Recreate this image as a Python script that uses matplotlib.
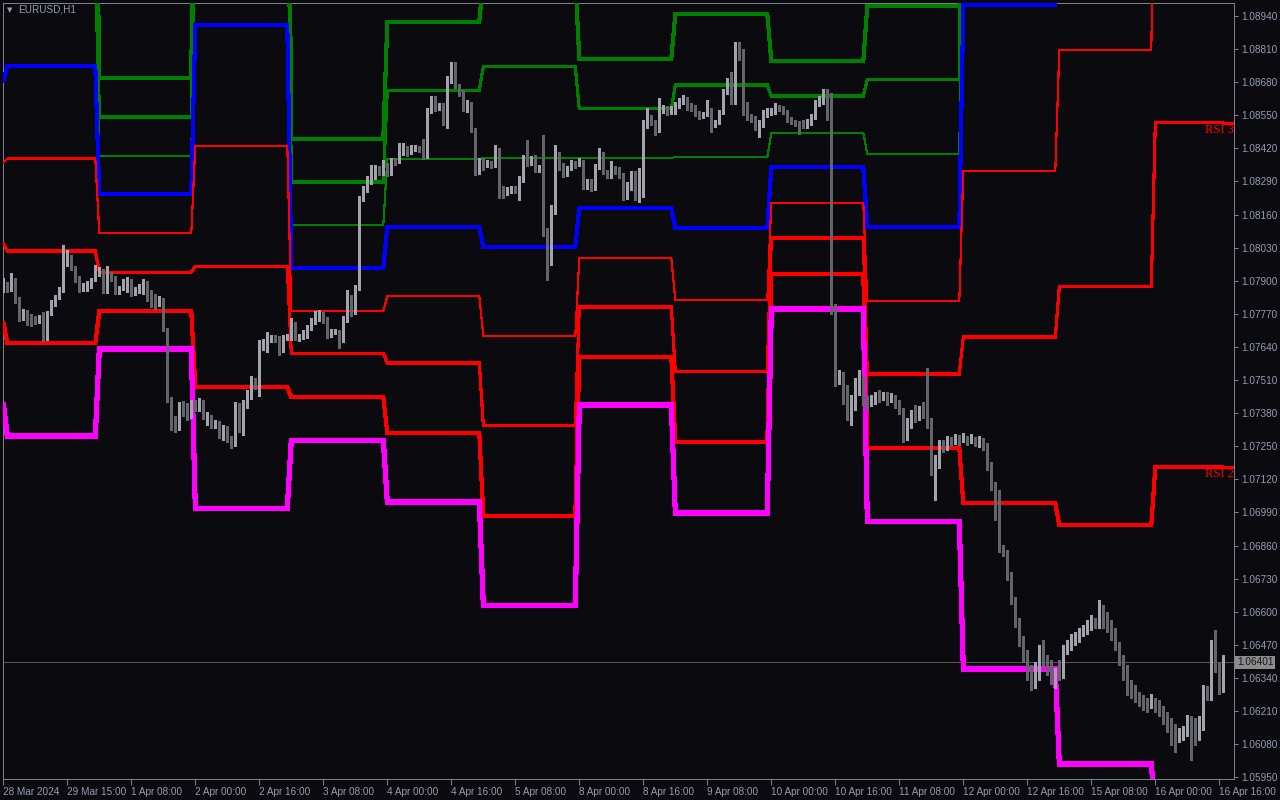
import numpy as np
import matplotlib
matplotlib.use("Agg")
import matplotlib.pyplot as plt
import matplotlib.transforms as mtransforms

plt.rcParams["font.family"] = ["Liberation Sans", "DejaVu Sans"]

BG = "#0a0a0f"
FRAME = "#7c818a"
TXT = "#939db0"
BULL = "#a3a3ae"
BEAR = "#64646b"

symbol = "EURUSD,H1"
bid = 1.06401

# H1 candles, one value per bar (open of each bar = close of the previous bar)
first_open = 1.07872
close = [
    1.07891, 1.07868, 1.07903, 1.07824, 1.07754, 1.07777, 1.07754, 1.07746, 1.07742, 1.07746,
    1.07671, 1.07773, 1.07813, 1.07832, 1.07864, 1.07970, 1.07974, 1.07950, 1.07907, 1.07864,
    1.07879, 1.07883, 1.07899, 1.07930, 1.07938, 1.07864, 1.07923, 1.07911, 1.07856, 1.07868,
    1.07895, 1.07903, 1.07852, 1.07860, 1.07875, 1.07891, 1.07828, 1.07805, 1.07801, 1.07832,
    1.07714, 1.07435, 1.07349, 1.07321, 1.07412, 1.07404, 1.07369, 1.07416, 1.07400, 1.07428,
    1.07365, 1.07365, 1.07333, 1.07337, 1.07290, 1.07321, 1.07278, 1.07259, 1.07412, 1.07318,
    1.07420, 1.07447, 1.07506, 1.07487, 1.07640, 1.07651, 1.07675, 1.07675, 1.07671, 1.07624,
    1.07675, 1.07679, 1.07726, 1.07675, 1.07679, 1.07687, 1.07714, 1.07738, 1.07765, 1.07773,
    1.07746, 1.07687, 1.07695, 1.07699, 1.07667, 1.07750, 1.07832, 1.07777, 1.07872, 1.08221,
    1.08260, 1.08300, 1.08319, 1.08343, 1.08323, 1.08363, 1.08323, 1.08370, 1.08367, 1.08425,
    1.08425, 1.08398, 1.08422, 1.08422, 1.08418, 1.08386, 1.08563, 1.08614, 1.08579, 1.08587,
    1.08520, 1.08689, 1.08689, 1.08665, 1.08638, 1.08575, 1.08594, 1.08492, 1.08327, 1.08370,
    1.08347, 1.08359, 1.08355, 1.08406, 1.08257, 1.08245, 1.08253, 1.08260, 1.08257, 1.08300,
    1.08382, 1.08363, 1.08378, 1.08335, 1.08339, 1.08088, 1.08001, 1.08178, 1.08394, 1.08347,
    1.08323, 1.08335, 1.08363, 1.08355, 1.08367, 1.08268, 1.08280, 1.08260, 1.08347, 1.08402,
    1.08327, 1.08312, 1.08339, 1.08335, 1.08312, 1.08229, 1.08276, 1.08315, 1.08229, 1.08327,
    1.08512, 1.08524, 1.08520, 1.08488, 1.08571, 1.08575, 1.08563, 1.08575, 1.08583, 1.08598,
    1.08614, 1.08579, 1.08575, 1.08559, 1.08543, 1.08547, 1.08571, 1.08512, 1.08520, 1.08563,
    1.08642, 1.08681, 1.08602, 1.08799, 1.08779, 1.08602, 1.08543, 1.08539, 1.08504, 1.08504,
    1.08559, 1.08563, 1.08563, 1.08583, 1.08579, 1.08563, 1.08536, 1.08528, 1.08520, 1.08512,
    1.08508, 1.08524, 1.08543, 1.08598, 1.08610, 1.08638, 1.08543, 1.07777, 1.07498, 1.07526,
    1.07432, 1.07373, 1.07432, 1.07491, 1.07518, 1.07439, 1.07420, 1.07432, 1.07447, 1.07439,
    1.07451, 1.07432, 1.07443, 1.07420, 1.07392, 1.07282, 1.07333, 1.07373, 1.07361, 1.07392,
    1.07384, 1.07353, 1.07157, 1.07196, 1.07255, 1.07243, 1.07274, 1.07266, 1.07282, 1.07274,
    1.07286, 1.07270, 1.07282, 1.07266, 1.07274, 1.07251, 1.07176, 1.07098, 1.07058, 1.06850,
    1.06834, 1.06744, 1.06646, 1.06559, 1.06481, 1.06418, 1.06363, 1.06312, 1.06371, 1.06449,
    1.06402, 1.06390, 1.06331, 1.06363, 1.06351, 1.06449, 1.06469, 1.06489, 1.06496, 1.06520,
    1.06528, 1.06544, 1.06559, 1.06551, 1.06583, 1.06567, 1.06548, 1.06520, 1.06469, 1.06410,
    1.06363, 1.06300, 1.06284, 1.06261, 1.06253, 1.06241, 1.06229, 1.06253, 1.06237, 1.06206,
    1.06182, 1.06155, 1.06127, 1.06104, 1.06115, 1.06123, 1.06174, 1.06104, 1.06096, 1.06167,
    1.06292, 1.06284, 1.06422, 1.06383, 1.06292, 1.06401,
]
high = [
    1.07911, 1.07895, 1.07930, 1.07911, 1.07836, 1.07789, 1.07785, 1.07769, 1.07762, 1.07765,
    1.07777, 1.07781, 1.07824, 1.07844, 1.07875, 1.08040, 1.08021, 1.08001, 1.07958, 1.07919,
    1.07891, 1.07899, 1.07911, 1.07962, 1.07954, 1.07946, 1.07958, 1.07934, 1.07919, 1.07879,
    1.07907, 1.07915, 1.07907, 1.07875, 1.07887, 1.07907, 1.07899, 1.07864, 1.07848, 1.07840,
    1.07820, 1.07706, 1.07443, 1.07369, 1.07424, 1.07428, 1.07420, 1.07432, 1.07432, 1.07439,
    1.07432, 1.07384, 1.07373, 1.07353, 1.07349, 1.07333, 1.07329, 1.07290, 1.07424, 1.07420,
    1.07432, 1.07471, 1.07526, 1.07518, 1.07667, 1.07671, 1.07699, 1.07687, 1.07687, 1.07683,
    1.07687, 1.07691, 1.07754, 1.07738, 1.07691, 1.07706, 1.07726, 1.07754, 1.07781, 1.07785,
    1.07777, 1.07758, 1.07710, 1.07710, 1.07706, 1.07762, 1.07864, 1.07844, 1.07883, 1.08233,
    1.08272, 1.08312, 1.08355, 1.08355, 1.08351, 1.08374, 1.08359, 1.08382, 1.08382, 1.08441,
    1.08441, 1.08429, 1.08433, 1.08433, 1.08429, 1.08457, 1.08579, 1.08626, 1.08626, 1.08598,
    1.08598, 1.08704, 1.08759, 1.08759, 1.08673, 1.08649, 1.08610, 1.08602, 1.08500, 1.08382,
    1.08382, 1.08374, 1.08370, 1.08433, 1.08422, 1.08272, 1.08268, 1.08272, 1.08272, 1.08312,
    1.08394, 1.08453, 1.08390, 1.08394, 1.08355, 1.08473, 1.08107, 1.08198, 1.08433, 1.08406,
    1.08363, 1.08351, 1.08374, 1.08370, 1.08382, 1.08374, 1.08300, 1.08300, 1.08359, 1.08422,
    1.08406, 1.08335, 1.08370, 1.08351, 1.08347, 1.08323, 1.08288, 1.08331, 1.08331, 1.08343,
    1.08532, 1.08579, 1.08551, 1.08532, 1.08618, 1.08591, 1.08587, 1.08587, 1.08602, 1.08618,
    1.08630, 1.08622, 1.08598, 1.08591, 1.08567, 1.08563, 1.08610, 1.08579, 1.08532, 1.08571,
    1.08653, 1.08697, 1.08720, 1.08838, 1.08838, 1.08811, 1.08579, 1.08555, 1.08547, 1.08532,
    1.08571, 1.08579, 1.08579, 1.08598, 1.08591, 1.08587, 1.08571, 1.08543, 1.08532, 1.08528,
    1.08532, 1.08536, 1.08555, 1.08610, 1.08626, 1.08653, 1.08653, 1.08638, 1.07809, 1.07549,
    1.07542, 1.07491, 1.07451, 1.07518, 1.07549, 1.07526, 1.07447, 1.07451, 1.07463, 1.07471,
    1.07463, 1.07463, 1.07459, 1.07451, 1.07432, 1.07400, 1.07361, 1.07392, 1.07412, 1.07408,
    1.07424, 1.07557, 1.07361, 1.07215, 1.07274, 1.07274, 1.07290, 1.07286, 1.07298, 1.07294,
    1.07302, 1.07290, 1.07298, 1.07286, 1.07290, 1.07282, 1.07263, 1.07188, 1.07109, 1.07078,
    1.06862, 1.06842, 1.06756, 1.06658, 1.06575, 1.06504, 1.06449, 1.06390, 1.06402, 1.06469,
    1.06489, 1.06430, 1.06410, 1.06379, 1.06410, 1.06469, 1.06489, 1.06512, 1.06520, 1.06536,
    1.06548, 1.06567, 1.06587, 1.06575, 1.06646, 1.06626, 1.06599, 1.06567, 1.06536, 1.06481,
    1.06430, 1.06390, 1.06331, 1.06312, 1.06284, 1.06273, 1.06261, 1.06277, 1.06261, 1.06253,
    1.06229, 1.06206, 1.06182, 1.06159, 1.06143, 1.06151, 1.06194, 1.06190, 1.06182, 1.06190,
    1.06312, 1.06308, 1.06489, 1.06528, 1.06398, 1.06430,
]
low = [
    1.07856, 1.07856, 1.07860, 1.07813, 1.07742, 1.07746, 1.07726, 1.07722, 1.07730, 1.07734,
    1.07663, 1.07667, 1.07765, 1.07801, 1.07828, 1.07856, 1.07958, 1.07942, 1.07895, 1.07856,
    1.07860, 1.07860, 1.07872, 1.07907, 1.07919, 1.07852, 1.07852, 1.07899, 1.07848, 1.07848,
    1.07864, 1.07856, 1.07840, 1.07844, 1.07852, 1.07848, 1.07820, 1.07797, 1.07789, 1.07805,
    1.07703, 1.07424, 1.07314, 1.07306, 1.07314, 1.07369, 1.07353, 1.07361, 1.07388, 1.07388,
    1.07357, 1.07333, 1.07321, 1.07321, 1.07282, 1.07274, 1.07266, 1.07243, 1.07251, 1.07306,
    1.07294, 1.07400, 1.07435, 1.07475, 1.07447, 1.07628, 1.07620, 1.07659, 1.07659, 1.07608,
    1.07620, 1.07667, 1.07667, 1.07667, 1.07663, 1.07671, 1.07675, 1.07706, 1.07730, 1.07742,
    1.07734, 1.07675, 1.07679, 1.07691, 1.07636, 1.07659, 1.07738, 1.07762, 1.07769, 1.07864,
    1.08213, 1.08249, 1.08280, 1.08300, 1.08315, 1.08315, 1.08312, 1.08315, 1.08355, 1.08363,
    1.08394, 1.08390, 1.08410, 1.08410, 1.08406, 1.08378, 1.08382, 1.08559, 1.08567, 1.08571,
    1.08512, 1.08500, 1.08677, 1.08657, 1.08626, 1.08567, 1.08563, 1.08484, 1.08315, 1.08319,
    1.08335, 1.08347, 1.08343, 1.08347, 1.08225, 1.08225, 1.08237, 1.08245, 1.08245, 1.08217,
    1.08288, 1.08351, 1.08355, 1.08327, 1.08327, 1.08076, 1.07903, 1.07962, 1.08162, 1.08335,
    1.08308, 1.08312, 1.08335, 1.08343, 1.08351, 1.08260, 1.08260, 1.08253, 1.08257, 1.08339,
    1.08319, 1.08304, 1.08304, 1.08319, 1.08304, 1.08217, 1.08221, 1.08257, 1.08217, 1.08209,
    1.08229, 1.08500, 1.08512, 1.08473, 1.08484, 1.08559, 1.08551, 1.08555, 1.08555, 1.08579,
    1.08594, 1.08571, 1.08567, 1.08547, 1.08536, 1.08539, 1.08547, 1.08484, 1.08504, 1.08516,
    1.08555, 1.08634, 1.08594, 1.08594, 1.08767, 1.08551, 1.08532, 1.08524, 1.08492, 1.08465,
    1.08512, 1.08543, 1.08551, 1.08555, 1.08567, 1.08555, 1.08524, 1.08516, 1.08508, 1.08477,
    1.08500, 1.08500, 1.08512, 1.08536, 1.08587, 1.08594, 1.08532, 1.07769, 1.07487, 1.07494,
    1.07416, 1.07353, 1.07333, 1.07392, 1.07451, 1.07412, 1.07392, 1.07408, 1.07416, 1.07424,
    1.07432, 1.07412, 1.07424, 1.07400, 1.07377, 1.07266, 1.07274, 1.07321, 1.07345, 1.07353,
    1.07361, 1.07321, 1.07137, 1.07039, 1.07164, 1.07227, 1.07235, 1.07251, 1.07259, 1.07255,
    1.07266, 1.07255, 1.07263, 1.07251, 1.07247, 1.07235, 1.07157, 1.07078, 1.06960, 1.06834,
    1.06819, 1.06724, 1.06630, 1.06540, 1.06465, 1.06402, 1.06331, 1.06292, 1.06300, 1.06331,
    1.06386, 1.06351, 1.06316, 1.06300, 1.06331, 1.06339, 1.06434, 1.06449, 1.06469, 1.06481,
    1.06504, 1.06512, 1.06528, 1.06536, 1.06536, 1.06536, 1.06520, 1.06489, 1.06449, 1.06390,
    1.06331, 1.06273, 1.06261, 1.06245, 1.06229, 1.06214, 1.06206, 1.06222, 1.06206, 1.06190,
    1.06159, 1.06127, 1.06076, 1.06049, 1.06088, 1.06096, 1.06112, 1.06017, 1.06076, 1.06143,
    1.06135, 1.06253, 1.06253, 1.06363, 1.06277, 1.06284,
]

# daily RSI price levels: first bar index of each day, then one level per day
day_start = [0, 1, 24, 48, 72, 96, 120, 144, 168, 192, 216, 240, 264, 288]
green_hi = [1.09624, 1.09834, 1.08697, 1.10328, 1.08457, 1.08917, 1.09089,
            1.08771, 1.08948, 1.08763, 1.08979, 1.10940, 1.12547, 1.15277]
green_mid = [1.09309, 1.09471, 1.08543, 1.09854, 1.08288, 1.08649, 1.08740,
             1.08575, 1.08669, 1.08626, 1.08689, 1.10288, 1.11612, 1.13926]
green_lo = [1.08995, 1.09107, 1.08390, 1.09379, 1.08119, 1.08378, 1.08382,
            1.08382, 1.08386, 1.08481, 1.08398, 1.09636, 1.10677, 1.12574]
blue_mid = [1.08681, 1.08744, 1.08241, 1.08905, 1.07950, 1.08111, 1.08033,
            1.08186, 1.08107, 1.08347, 1.08111, 1.08983, 1.09742, 1.11223]
red_thin = [1.08363, 1.08380, 1.08088, 1.08430, 1.07781, 1.07840, 1.07683,
            1.07989, 1.07824, 1.08206, 1.07821, 1.08331, 1.08807, 1.09871]
rsi3 = [1.08048, 1.08017, 1.07934, 1.07956, 1.07616, 1.07577, 1.07333,
        1.07797, 1.07545, 1.08068, 1.07534, 1.07679, 1.07876, 1.08520]
rsi2 = [1.07738, 1.07654, 1.07781, 1.07482, 1.07443, 1.07302, 1.06976,
        1.07601, 1.07267, 1.07927, 1.07243, 1.07027, 1.06940, 1.07168]
rsi1 = [1.07420, 1.07290, 1.07632, 1.07007, 1.07274, 1.07031, 1.06626,
        1.07412, 1.06988, 1.07789, 1.06956, 1.06375, 1.06002, 1.05817]

time_labels = ["28 Mar 2024", "29 Mar 15:00", "1 Apr 08:00", "2 Apr 00:00", "2 Apr 16:00",
               "3 Apr 08:00", "4 Apr 00:00", "4 Apr 16:00", "5 Apr 08:00", "8 Apr 00:00",
               "8 Apr 16:00", "9 Apr 08:00", "10 Apr 00:00", "10 Apr 16:00", "11 Apr 08:00",
               "12 Apr 00:00", "12 Apr 16:00", "15 Apr 08:00", "16 Apr 00:00", "16 Apr 16:00"]
label_step = 16
price_ticks = [1.08940 - 0.0013 * k for k in range(24)]

close = np.array(close)
high = np.array(high)
low = np.array(low)
n = len(close)
idx = np.arange(n)
opens = np.concatenate([[first_open], close[:-1]])
hi = np.maximum(high, np.maximum(opens, close))
lo = np.minimum(low, np.minimum(opens, close))
up = close >= opens

fig = plt.figure(figsize=(12.8, 8), dpi=100, facecolor=BG)
ax = fig.add_axes([2.5 / 1280, 21 / 800, 1231.5 / 1280, 776.5 / 800], facecolor=BG)

# indicator step lines (drawn without smoothing, like the terminal does)
days_len = np.diff(day_start + [n])
px = 0.72
lines = [
    (green_hi, "#008000", 3), (green_mid, "#008000", 2), (green_lo, "#008000", 1),
    (blue_mid, "#0000ff", 3), (red_thin, "#ff0000", 1), (rsi3, "#ff0000", 2),
    (rsi2, "#ff0000", 3), (rsi1, "#ff00ff", 4),
]
for levels, col, w in lines:
    ax.plot(idx, np.repeat(levels, days_len), color=col, lw=w * px + 0.1, zorder=3,
            solid_joinstyle="miter", solid_capstyle="butt", antialiased=False)

ax.axhline(bid, color="#55575c", lw=px, zorder=2, antialiased=False)

# candles
for mask, col in ((up, BULL), (~up, BEAR)):
    ax.vlines(idx[mask], lo[mask], hi[mask], color=col, lw=px + 0.1, zorder=5,
              antialiased=False)
    b0 = np.minimum(opens, close)[mask]
    bh = np.maximum(np.abs(close - opens)[mask], 0.00003)
    ax.bar(idx[mask], bh, bottom=b0, width=0.75, color=col, lw=0, zorder=6,
           antialiased=False)

x_right = (1234 - 3.3) / 4
ax.set_xlim(-0.2, x_right)
ax.set_ylim(1.05943, 1.08993)

# RSI labels at the right edge
blend = mtransforms.blended_transform_factory(ax.transAxes, ax.transData)
for name, levels in (("RSI 3", rsi3), ("RSI 2", rsi2)):
    ax.plot([n - 1, x_right], [levels[-1], levels[-1]], color="#ff0000", lw=px + 0.1,
            zorder=3, antialiased=False)
    ax.text(0.9995, levels[-1] - 0.00004, name, transform=blend, ha="right", va="top",
            color="#ff0000", fontsize=9, family="Liberation Serif", zorder=7)

# bid label
ax.text(1.0 + 3 / 1231.5, bid, "1.06401", transform=blend, ha="left", va="center",
        fontsize=7.2, color="#15151a", clip_on=False, zorder=8,
        bbox=dict(boxstyle="square,pad=0.16", fc="#8c8c8c", ec="none"))

for sp in ax.spines.values():
    sp.set_color(FRAME)
    sp.set_linewidth(px)

ax.yaxis.tick_right()
ax.set_yticks(price_ticks)
ax.set_yticklabels([f"{p:.5f}" for p in price_ticks])
ax.set_xticks(idx[::label_step][:len(time_labels)])
ax.set_xticklabels(time_labels, ha="left")
ax.tick_params(axis="y", length=3, width=px, color=FRAME, labelcolor=TXT, labelsize=7.2, pad=2)
ax.tick_params(axis="x", length=4, width=px, color=FRAME, labelcolor=TXT, labelsize=7.2, pad=2)

fig.text(7 / 1280, 1 - 10.5 / 800, "\u25bc", color=TXT, fontsize=5, va="center",
         family="DejaVu Sans")
fig.text(18 / 1280, 1 - 10 / 800, symbol, color=TXT, fontsize=7.2, va="center")

fig.savefig("out.png", dpi=100, facecolor=BG)
